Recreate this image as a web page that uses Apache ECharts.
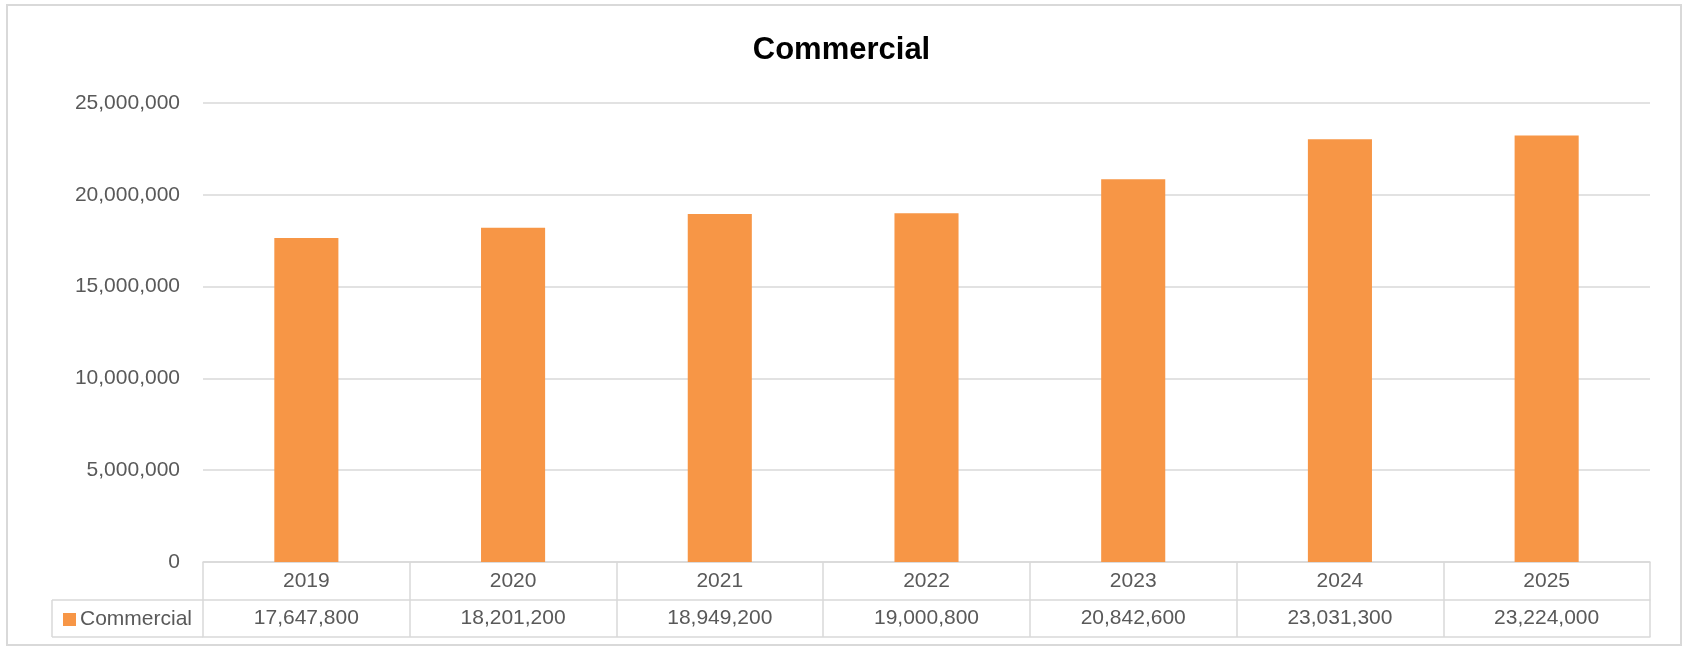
<!DOCTYPE html>
<html>
<head>
<meta charset="utf-8">
<script src="https://cdn.jsdelivr.net/npm/echarts@6/dist/echarts.min.js"></script>
<style>
html,body{margin:0;padding:0;background:#fff;}
#chart{width:1683px;height:649px;}
</style>
</head>
<body>
<div id="chart"></div>
<script>
const title = 'Commercial';
const seriesName = 'Commercial';
const categories = ['2019', '2020', '2021', '2022', '2023', '2024', '2025'];
const values = [17647800, 18201200, 18949200, 19000800, 20842600, 23031300, 23224000];
const yMin = 0, yMax = 25000000, yStep = 5000000;

const fmt = v => Number(v).toLocaleString('en-US');
const txt = '#595959';
const lineC = '#d9d9d9';
const font = '"Liberation Sans", Arial, sans-serif';

const chart = echarts.init(document.getElementById('chart'));
const gridLeft = 203, gridRight = 33, gridTop = 103, gridBottom = 87;
const bottomY = 649 - gridBottom;

chart.setOption({
  animation: false,
  backgroundColor: '#fff',
  title: {
    text: title, left: 'center', top: 30,
    textStyle: { fontFamily: font, fontSize: 31, fontWeight: 'bold', color: '#000' }
  },
  legend: {
    show: true, left: 58, top: 604, icon: 'rect', itemWidth: 13, itemHeight: 13, itemGap: 6,
    textStyle: { fontFamily: font, fontSize: 21, color: txt, padding: [0, 0, 0, -1] },
    data: [seriesName]
  },
  grid: { left: gridLeft, right: gridRight, top: gridTop, bottom: gridBottom, containLabel: false },
  xAxis: [
    {
      type: 'category', data: categories, position: 'bottom',
      axisLine: { show: true, lineStyle: { color: lineC, width: 1.5 } },
      axisTick: { show: true, interval: 0, length: 75, lineStyle: { color: lineC, width: 1.5 } },
      axisLabel: { interval: 0, margin: 9, fontFamily: font, fontSize: 21, color: txt }
    },
    {
      type: 'category', data: categories, position: 'bottom', offset: 38,
      axisLine: { show: true, lineStyle: { color: lineC, width: 1.5 } },
      axisTick: { show: false },
      axisLabel: { interval: 0, margin: 8, fontFamily: font, fontSize: 21, color: txt,
        formatter: (v, i) => fmt(values[i]) }
    },
    {
      type: 'category', data: categories, position: 'bottom', offset: 75,
      axisLine: { show: true, lineStyle: { color: lineC, width: 1.5 } },
      axisTick: { show: false }, axisLabel: { show: false }
    }
  ],
  yAxis: {
    type: 'value', min: yMin, max: yMax, interval: yStep,
    axisLine: { show: false }, axisTick: { show: false },
    splitLine: { show: true, lineStyle: { color: lineC, width: 1.5 } },
    axisLabel: { margin: 23, fontFamily: font, fontSize: 21, color: txt, formatter: v => fmt(v) }
  },
  series: [{
    name: seriesName, type: 'bar', data: values, xAxisIndex: 0,
    barWidth: '31%',
    itemStyle: { color: '#F79646' }
  }],
  graphic: [
    { type: 'rect', shape: { x: 7, y: 5, width: 1674, height: 640 },
      style: { fill: 'none', stroke: lineC, lineWidth: 2 }, silent: true, z: -1 },
    { type: 'line', shape: { x1: 52, y1: bottomY + 38, x2: gridLeft, y2: bottomY + 38 },
      style: { stroke: lineC, lineWidth: 1.5 }, silent: true },
    { type: 'line', shape: { x1: 52, y1: bottomY + 75, x2: gridLeft, y2: bottomY + 75 },
      style: { stroke: lineC, lineWidth: 1.5 }, silent: true },
    { type: 'line', shape: { x1: 52, y1: bottomY + 38, x2: 52, y2: bottomY + 75 },
      style: { stroke: lineC, lineWidth: 1.5 }, silent: true }
  ]
});
</script>
</body>
</html>
